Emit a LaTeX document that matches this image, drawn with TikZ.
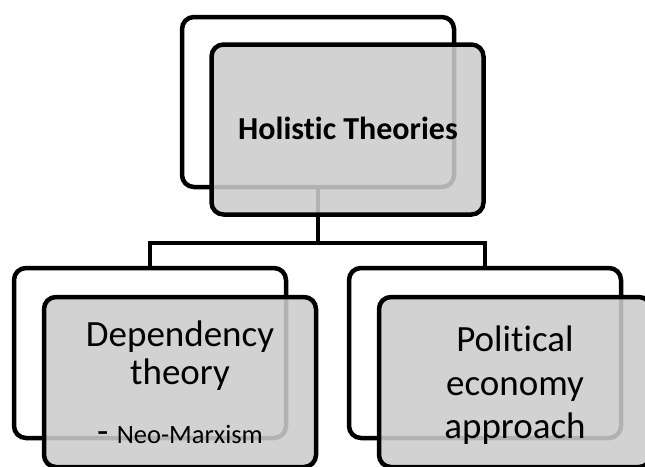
\documentclass[tikz,border=0pt]{standalone}
\usepackage{fontspec}
\setmainfont{Carlito}[RawFeature={-liga;-clig;-calt;-dlig}]
\definecolor{boxgray}{gray}{0.80}
\begin{document}
\begin{tikzpicture}[x=1pt,y=-1pt,
  backbox/.style={draw=black, line width=4.5pt, rounded corners=12pt, fill=white,
    minimum width=272pt, minimum height=170pt, inner sep=0pt, outer sep=0pt},
  frontbox/.style={draw=black, line width=4.5pt, rounded corners=12pt, fill=boxgray,
    fill opacity=0.875, draw opacity=1, minimum width=272pt, minimum height=170pt,
    inner sep=0pt, outer sep=0pt},
  conn/.style={draw=black, line width=4.5pt},
  lbl/.style={anchor=base, inner sep=0pt, text=black},
  bigtext/.style={font=\fontsize{37}{40}\selectfont}]
\useasboundingbox (0,0) rectangle (645,466);
% back (outline) boxes
\node[backbox] (topb) at (318,102) {};
\node[backbox] (leftb) at (150,353) {};
\node[backbox] (rightb) at (485,353) {};
% connectors
\draw[conn] (topb.south) -- ++(0,56) -| (leftb.north);
\draw[conn] (topb.south) -- ++(0,56) -| (rightb.north);
% front (gray) boxes
\node[frontbox] (topf) at (347.5,129.5) {};
\node[frontbox] (leftf) at (180,382) {};
\node[frontbox] (rightf) at (515,382) {};
% texts
\node[lbl, font=\bfseries\fontsize{32}{38}\selectfont] (t0) at (348,139.3) {Holistic Theories};
\node[lbl, bigtext] (t1) at (180,346.7) {Dependency};
\node[lbl, bigtext] (t2) at (180,384) {theory};
\node[lbl, bigtext] (t3) at (180,443) {-\ {\fontsize{26.5}{30}\selectfont Neo-Marxism}};
\node[lbl, bigtext] (t4) at (515,351.7) {Political};
\node[lbl, bigtext] (t5) at (515,395) {economy};
\node[lbl, bigtext] (t6) at (515,438.3) {approach};
\end{tikzpicture}
\end{document}
